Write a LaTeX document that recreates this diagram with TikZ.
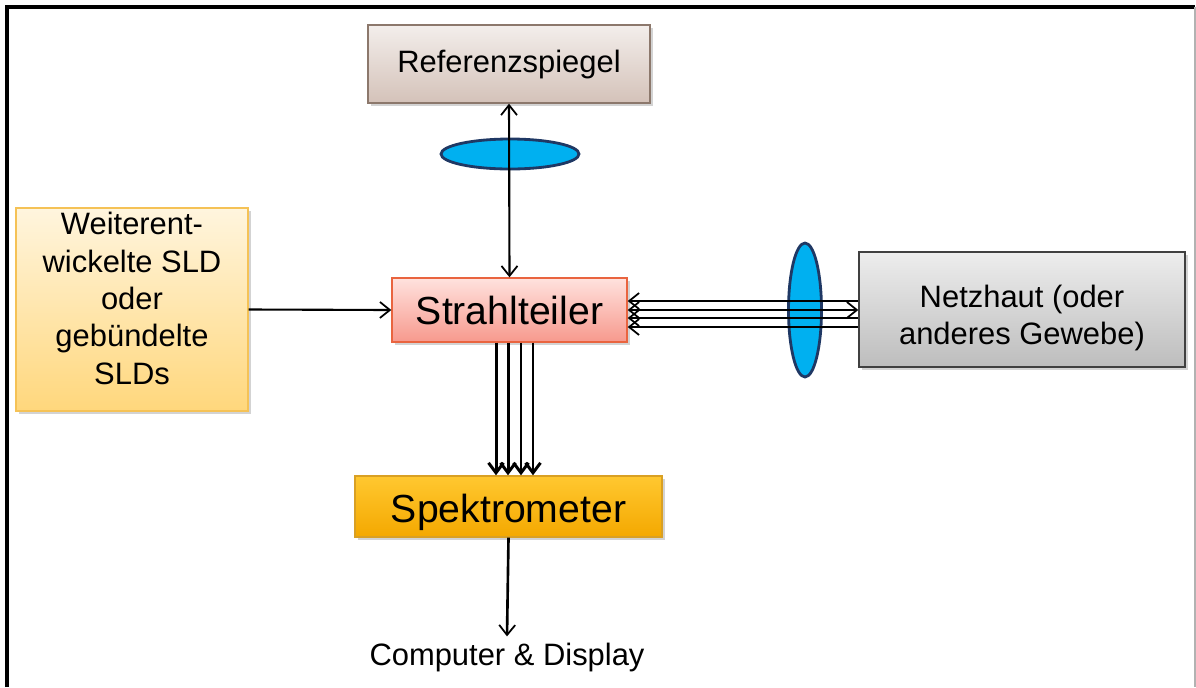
\documentclass[tikz,border=0pt]{standalone}
\usepackage{fontspec}
\setmainfont{Liberation Sans}
\usepackage{tikz}
\usetikzlibrary{arrows.meta,shapes.geometric,shadows,positioning}

\definecolor{refA}{HTML}{F3EEEB}
\definecolor{refB}{HTML}{D4C2B9}
\definecolor{refD}{HTML}{8C786C}
\definecolor{bsA}{HTML}{FFE2DE}
\definecolor{bsB}{HTML}{F7998D}
\definecolor{bsD}{HTML}{E9643F}
\definecolor{sldA}{HTML}{FFF5DE}
\definecolor{sldB}{HTML}{FFD77C}
\definecolor{sldD}{HTML}{F5C256}
\definecolor{retA}{HTML}{EDEDED}
\definecolor{retB}{HTML}{BDBDBD}
\definecolor{retD}{HTML}{404040}
\definecolor{specA}{HTML}{FFC830}
\definecolor{specB}{HTML}{F4A800}
\definecolor{specD}{HTML}{D9A024}
\definecolor{lensF}{HTML}{00B0F0}
\definecolor{lensD}{HTML}{1F3864}

\tikzset{
  block/.style={draw,line width=0.8pt,align=center,inner sep=0pt,
    font=\fontsize{17.6}{21.3}\selectfont,
    drop shadow={shadow xshift=0.06cm,shadow yshift=-0.06cm,opacity=0.35}},
  lens/.style={ellipse,draw=lensD,fill=lensF,line width=1.6pt,inner sep=0pt},
  tip/.tip={Straight Barb[length=2mm,width=3.2mm,line width=1pt]},
  beam/.style={line width=1.2pt,-tip},
  twoway/.style={line width=1.2pt,tip-tip},
  back/.style={line width=1.2pt,tip-},
  bundle/.style={line width=1.7pt,-{Straight Barb[length=2mm,width=3mm]}},
}

\begin{document}
\begin{tikzpicture}[x=0.02cm,y=-0.02cm]
        \useasboundingbox (0,0) rectangle (1196,687);
        % frame
        \draw[line width=2.2pt] (7,687) -- (7,7) -- (1195,7);
        \draw[gray!60,line width=0.6pt] (1195,7) -- (1195,687);

        % blocks
        \node[block,minimum width=5.64cm,minimum height=1.56cm,draw=refD,top color=refA,bottom color=refB] (ref) at (509,64) {Referenzspiegel};
        \node[block,minimum width=4.7cm,minimum height=1.28cm,draw=bsD,top color=bsA,bottom color=bsB,font=\fontsize{22.3}{26}\selectfont] (split) at (509.5,310) {Strahlteiler};
        \node[block,minimum width=4.64cm,minimum height=4.06cm,draw=sldD,top color=sldA,bottom color=sldB] (sld) at (132,309.5) {Weiterent-\\wickelte SLD\\oder\\gebündelte\\SLDs\\[-0.3cm]~};
        \node[block,minimum width=6.52cm,minimum height=2.3cm,draw=retD,top color=retA,bottom color=retB] (retina) at (1022,309.5) {Netzhaut (oder\\anderes Gewebe)\\[-0.95cm]~};
        \node[block,minimum width=6.14cm,minimum height=1.22cm,draw=specD,top color=specA,bottom color=specB,font=\fontsize{22.3}{26}\selectfont,text height=0.62cm,text depth=0pt] (spec) at (508.5,506.5) {Spektrometer};
        \node[font=\fontsize{17.6}{21.3}\selectfont] (out) at (507,657) {Computer \& Display};

        % lenses go under the beams
        \node[lens,minimum width=2.76cm,minimum height=0.6cm] (lensR) at (510,154) {};
        \node[lens,minimum width=0.66cm,minimum height=2.68cm] (lensS) at (805,310) {};

        % reference arm
        \draw[twoway] (split.north) -- (ref.south);

        % source
        \draw[beam] (sld.east) -- (split.west);

        % sample arm
        \foreach \dy in {0.18,-0.16,-0.34}
          \draw[back] ([yshift=\dy cm]split.east) -- ([yshift=\dy cm]split.east -| retina.west);
        \draw[twoway] (split.east) -- (split.east -| retina.west);

        % detection
        \foreach \dx in {-0.27,-0.03,0.23,0.47}
          \draw[bundle] ([xshift=\dx cm]split.south) -- ([xshift=\dx cm]split.south |- spec.north);
        \draw[beam,line width=1.5pt] (spec.south) -- (out.north);
\end{tikzpicture}
\end{document}
